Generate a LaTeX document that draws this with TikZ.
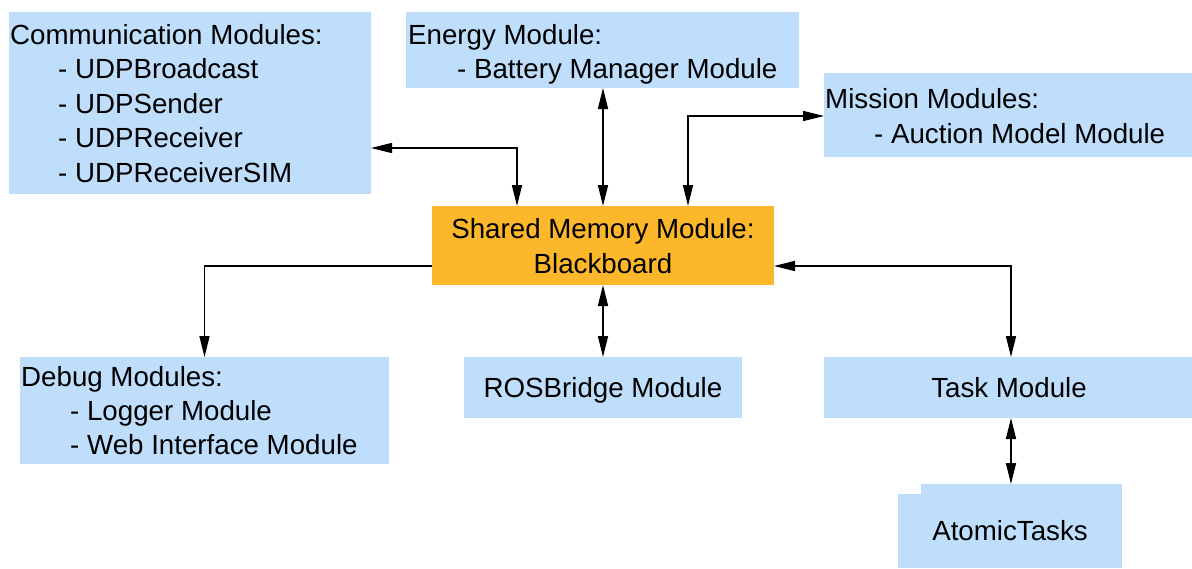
\documentclass[tikz,border=0pt]{standalone}
\usepackage{fontspec}
\setmainfont{Liberation Sans}
\usetikzlibrary{arrows.meta}
\definecolor{modblue}{RGB}{191,222,252}
\definecolor{coreorange}{RGB}{253,183,42}
\begin{document}
\begin{tikzpicture}[x=1pt,y=-1pt,
  box/.style={fill=modblue, draw=none, inner sep=0pt, outer sep=0pt},
  core/.style={fill=coreorange, draw=none, inner sep=0pt, outer sep=0pt},
  txt/.style={inner sep=0pt, font=\fontsize{27.7}{34}\selectfont},
  lbl/.style={txt, anchor=base west},
  clbl/.style={txt, anchor=base},
  tip/.tip={Triangle[length=21pt,width=10pt]},
  link/.style={line width=1.6pt, tip-tip},
  oneway/.style={line width=1.6pt, -tip}]
\useasboundingbox (0,0) rectangle (1192,568);

% module boxes
\node[box, minimum width=362pt, minimum height=182pt] (comm)    at (190,103)    {};
\node[box, minimum width=393pt, minimum height=76pt]  (energy)  at (602.5,50)   {};
\node[box, minimum width=368pt, minimum height=84pt]  (mission) at (1008,115)   {};
\node[core, minimum width=342pt, minimum height=79pt] (shared)  at (603,245.5)  {};
\node[box, minimum width=369pt, minimum height=107pt] (debug)   at (204.5,410.5) {};
\node[box, minimum width=278pt, minimum height=61pt]  (ros)     at (603,387.5)  {};
\node[box, minimum width=368pt, minimum height=61pt]  (task)    at (1008,387.5) {};
\node[box, minimum width=201pt, minimum height=84pt]  (atomic)  at (1021.5,526) {};
\fill[modblue] (898,494) rectangle (921.5,568);

% labels
\node[lbl] (comm-h)  at (10,44)    {Communication Modules:};
\node[lbl] (comm-a)  at (58,78.5)  {- UDPBroadcast};
\node[lbl] (comm-b)  at (58,113)   {- UDPSender};
\node[lbl] (comm-c)  at (58,147.5) {- UDPReceiver};
\node[lbl] (comm-d)  at (58,182.5) {- UDPReceiverSIM};

\node[lbl] (energy-h) at (408,44) {Energy Module:};
\node[lbl] (energy-a) at (457,78) {- Battery Manager Module};

\node[lbl] (mission-h) at (825,108.5) {Mission Modules:};
\node[lbl] (mission-a) at (874,143)   {- Auction Model Module};

\node[clbl] (shared-a) at (603,238.5) {Shared Memory Module:};
\node[clbl] (shared-b) at (603,273.5) {Blackboard};

\node[lbl] (debug-h) at (21,386.5) {Debug Modules:};
\node[lbl] (debug-a) at (70,420.5) {- Logger Module};
\node[lbl] (debug-b) at (70,454.5) {- Web Interface Module};

\node[clbl] (ros-t)    at (603,397.5)  {ROSBridge Module};
\node[clbl] (task-t)   at (1009,397.5) {Task Module};
\node[clbl] (atomic-t) at (1010,540.5) {AtomicTasks};

% connectors
\draw[link] (517,0 |- shared.north) |- (comm.east |- 0,148);
\draw[link] (energy.south -| shared.north) -- (shared.north);
\draw[link] (688,0 |- shared.north) |- (mission.west |- 0,116);
\draw[oneway] (shared.west |- 0,266) -| (debug.north);
\draw[link] (shared.east |- 0,266) -| (1011,0 |- task.north);
\draw[link] (shared.south) -- (ros.north);
\draw[link] (1011,0 |- task.south) -- (1011,0 |- atomic.north);
\end{tikzpicture}
\end{document}
